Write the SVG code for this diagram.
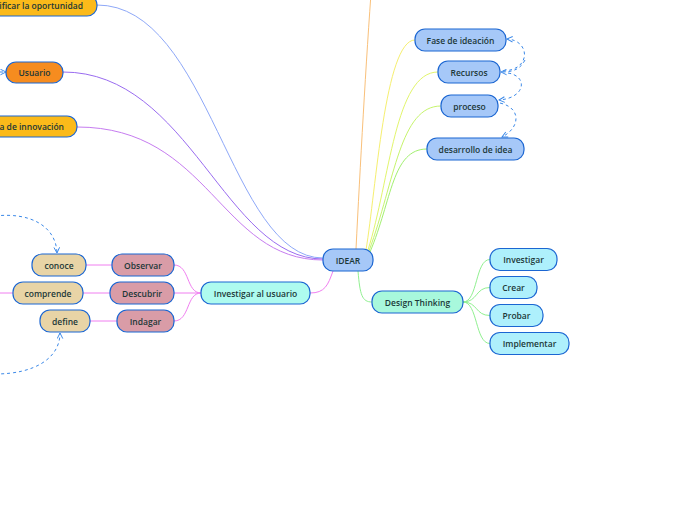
<svg xmlns="http://www.w3.org/2000/svg" width="696" height="520" viewBox="0 0 696 520">
<defs>
<marker id="arr" viewBox="0 0 10 10" refX="9" refY="5" markerWidth="7" markerHeight="7" orient="auto" markerUnits="userSpaceOnUse">
<path d="M1,1 L9,5 L1,9" fill="none" stroke="#3a88e8" stroke-width="1.4"/>
</marker>
</defs>
<style>
.n rect{stroke:#1b66d2;stroke-width:1.2}
.n text{font-family:"Open Sans","Noto Sans",sans-serif;font-size:8.5px;font-weight:600;fill:#1c3838;text-anchor:middle;dominant-baseline:central}
.c path{fill:none;stroke-width:1}
.d{fill:none;stroke:#3a88e8;stroke-width:1;stroke-dasharray:3,3}
.blue{fill:#a6c8f8}
.cyan{fill:#aefbef}
.mint{fill:#a8f8dc}
.sky{fill:#aef0fc}
.rose{fill:#d99ca7}
.tan{fill:#e8d4a6}
.org{fill:#f68c1f}
.yel{fill:#fbba1a}
</style>
<rect width="696" height="520" fill="#ffffff"/>
<g class="c" id="connectors">
<path d="M97 5 C210 5,230 258,323 258" stroke="#8ea8f8"/>
<path d="M63 72 C190 72,225 259,323 259" stroke="#9a6cf0"/>
<path d="M77 127 C210 127,220 260,323 260" stroke="#c67cf0"/>
<path d="M356 249 C360 170,366 60,372 -20" stroke="#f9c07a"/>
<path d="M366 250 C376 190,385 40,415 40" stroke="#f6ef70"/>
<path d="M368 250 C390 180,395 72,438 72" stroke="#e2f56c"/>
<path d="M369 251 C395 180,400 106,441 106" stroke="#c6f46c"/>
<path d="M370 252 C392 200,392 149,427 149" stroke="#a2f070"/>
<path d="M310 293 C325 293,328 285,333 271" stroke="#f07ef0"/>
<path d="M201 293 C186 293,190 265,174 265" stroke="#f07ef0"/>
<path d="M201 293 L174 293" stroke="#f07ef0"/>
<path d="M201 293 C186 293,190 321,174 321" stroke="#f07ef0"/>
<path d="M112 265 L86 265" stroke="#f07ef0"/>
<path d="M110 293 L83 293" stroke="#f07ef0"/>
<path d="M117 321 L90 321" stroke="#f07ef0"/>
<path d="M13 293 L-5 293" stroke="#f07ef0"/>
<path d="M358 271 C360 295,362 302,372 302" stroke="#90f090"/>
<path d="M463 302 C478 302,475 259.5,490 259.5" stroke="#90f090"/>
<path d="M463 302 C478 302,475 287.5,490 287.5" stroke="#90f090"/>
<path d="M463 302 C478 302,475 315.5,490 315.5" stroke="#90f090"/>
<path d="M463 302 C478 302,475 343.5,490 343.5" stroke="#90f090"/>
<path class="d" d="M503 71 C532 70,530 40,507 39" marker-end="url(#arr)"/>
<path class="d" d="M508 73 C528 76,526 98,499 100" marker-end="url(#arr)"/>
<path class="d" d="M525 60 C520 70,512 72,501 72" marker-end="url(#arr)"/>
<path class="d" d="M500 103 C522 108,520 128,502 137" marker-end="url(#arr)"/>
<path class="d" d="M-5 216 C30 212,56 226,57 253" marker-end="url(#arr)"/>
<path class="d" d="M-5 374 C35 374,60 358,60 333" marker-end="url(#arr)"/>
<path class="d" d="M-12 72 L6 72" marker-end="url(#arr)"/>
</g>
<g class="n" id="n-oportunidad"><rect class="yel" x="-70" y="-5" width="167" height="21" rx="10"/><text x="83" y="5.5" style="text-anchor:end">Identificar la oportunidad</text></g>
<g class="n" id="n-usuario"><rect class="org" x="6" y="62" width="57" height="21" rx="10"/><text x="34.5" y="72.5">Usuario</text></g>
<g class="n" id="n-innovacion"><rect class="yel" x="-40" y="116" width="117" height="21" rx="10"/><text x="64" y="126.5" style="text-anchor:end">Idea de innovación</text></g>
<g class="n" id="n-fase"><rect class="blue" x="415" y="29" width="91" height="22" rx="10"/><text x="460.5" y="40">Fase de ideación</text></g>
<g class="n" id="n-recursos"><rect class="blue" x="438" y="61" width="62" height="22" rx="10"/><text x="469" y="72">Recursos</text></g>
<g class="n" id="n-proceso"><rect class="blue" x="441" y="95" width="57" height="22" rx="10"/><text x="469.5" y="106">proceso</text></g>
<g class="n" id="n-desarrollo"><rect class="blue" x="427" y="138" width="97" height="22" rx="10"/><text x="475.5" y="149">desarrollo de idea</text></g>
<g class="n" id="n-idear"><rect class="blue" x="323" y="249" width="50" height="22" rx="10"/><text x="348" y="260">IDEAR</text></g>
<g class="n" id="n-investigar-usuario"><rect class="cyan" x="201" y="282" width="109" height="22" rx="10"/><text x="255.5" y="293">Investigar al usuario</text></g>
<g class="n" id="n-observar"><rect class="rose" x="112" y="254" width="62" height="22" rx="10"/><text x="143" y="265">Observar</text></g>
<g class="n" id="n-descubrir"><rect class="rose" x="110" y="282" width="64" height="22" rx="10"/><text x="142" y="293">Descubrir</text></g>
<g class="n" id="n-indagar"><rect class="rose" x="117" y="310" width="57" height="22" rx="10"/><text x="145.5" y="321">Indagar</text></g>
<g class="n" id="n-conoce"><rect class="tan" x="32" y="254" width="54" height="22" rx="10"/><text x="59" y="265">conoce</text></g>
<g class="n" id="n-comprende"><rect class="tan" x="13" y="282" width="70" height="22" rx="10"/><text x="48" y="293">comprende</text></g>
<g class="n" id="n-define"><rect class="tan" x="40" y="310" width="50" height="22" rx="10"/><text x="65" y="321">define</text></g>
<g class="n" id="n-design"><rect class="mint" x="372" y="291" width="91" height="22" rx="10"/><text x="417.5" y="302">Design Thinking</text></g>
<g class="n" id="n-investigar"><rect class="sky" x="490" y="248.5" width="67" height="22" rx="10"/><text x="523.5" y="259.5">Investigar</text></g>
<g class="n" id="n-crear"><rect class="sky" x="490" y="276.5" width="47" height="22" rx="10"/><text x="513.5" y="287.5">Crear</text></g>
<g class="n" id="n-probar"><rect class="sky" x="490" y="304.5" width="53" height="22" rx="10"/><text x="516.5" y="315.5">Probar</text></g>
<g class="n" id="n-implementar"><rect class="sky" x="490" y="332.5" width="79" height="22" rx="10"/><text x="529.5" y="343.5">Implementar</text></g>
</svg>
